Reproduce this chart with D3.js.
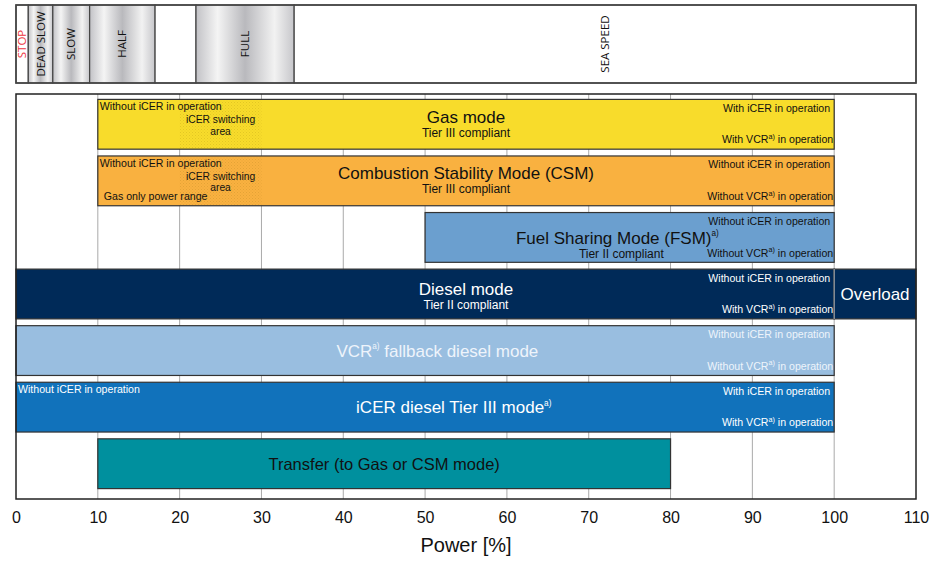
<!DOCTYPE html>
<html>
<head>
<meta charset="utf-8">
<script src="https://cdn.jsdelivr.net/npm/d3@7"></script>
<style>
  body { margin: 0; background: #fff; }
  text { font-family: "Liberation Sans", Arial, sans-serif; }
  .tele text { font-family: "Open Sans", "DejaVu Sans", sans-serif; }
</style>
</head>
<body>
<script>
// engine telegraph bands (power %)
var speedLabels = ["STOP", "DEAD SLOW", "SLOW", "HALF", "", "FULL", "SEA SPEED"];
var speedEdges = [0, 1.5, 4.5, 9, 17, 22, 34, 110];

// operating modes, one row each
var modes = ["Gas mode", "Combustion Stability Mode (CSM)", "Fuel Sharing Mode (FSM)^a)", "Diesel mode",
             "VCR^a) fallback diesel mode", "iCER diesel Tier III mode^a)", "Transfer (to Gas or CSM mode)"];
var subtitles = ["Tier III compliant", "Tier III compliant", "Tier II compliant", "Tier II compliant", "", "", ""];
var startPct = [10, 10, 50, 0, 0, 0, 10];
var endPct = [100, 100, 100, 100, 100, 100, 80];
var leftNotes = ["Without iCER in operation", "Without iCER in operation", "", "", "", "Without iCER in operation", ""];
var rightTop = ["With iCER in operation", "Without iCER in operation", "Without iCER in operation",
                "Without iCER in operation", "Without iCER in operation", "With iCER in operation", ""];
var rightBottom = ["With VCR^a) in operation", "Without VCR^a) in operation", "Without VCR^a) in operation",
                   "With VCR^a) in operation", "Without VCR^a) in operation", "With VCR^a) in operation", ""];
var switchRange = [20, 30];   // iCER switching area, rows 0 and 1
var overloadRange = [100, 110]; // on the diesel row
var xTicks = [0, 10, 20, 30, 40, 50, 60, 70, 80, 90, 100, 110];

var fills = ["#f8dc2b", "#f9b140", "#6b9fcf", "#002a58", "#99bee0", "#1172bb", "#00909e"];
var textCol = ["#111", "#111", "#111", "#fff", "#eef4fb", "#fff", "#111"];
// title x position (power %) per row, to follow the picture
var titleAt = [55, 55, 73.5, 55, 51.5, 53.5, 45];

var svg = d3.select("body").append("svg").attr("width", 937).attr("height", 561);

var x = d3.scaleLinear().domain([0, 110]).range([16, 916]);
var y = d3.scaleBand().domain(d3.range(modes.length)).range([96, 492]).paddingInner(0.12).paddingOuter(0.06);

var defs = svg.append("defs");
var grad = defs.append("linearGradient").attr("id", "metal");
[[0, "#c2c2c6"], [0.22, "#f4f4f4"], [0.5, "#b9b9bd"], [0.8, "#f2f2f2"], [1, "#c6c6ca"]].forEach(function(s) {
  grad.append("stop").attr("offset", s[0]).attr("stop-color", s[1]);
});
var pat = defs.append("pattern").attr("id", "stip").attr("width", 3).attr("height", 3).attr("patternUnits", "userSpaceOnUse");
pat.append("rect").attr("width", 1).attr("height", 1).attr("fill", "rgba(120,90,0,0.16)");
pat.append("rect").attr("x", 1.5).attr("y", 1.5).attr("width", 1).attr("height", 1).attr("fill", "rgba(120,90,0,0.12)");

// rich text helper: "^a)" becomes a superscript
function rich(g, str, px, py, size, color, anchor) {
  var supScale = size > 14 ? 0.48 : 0.68;
  var t = g.append("text").attr("x", px).attr("y", py).attr("font-size", size)
    .attr("fill", color).attr("text-anchor", anchor || "start");
  str.split("^").forEach(function(p, i) {
    if (i == 0) { t.append("tspan").text(p); return; }
    t.append("tspan").attr("font-size", size * supScale).attr("dy", -size * 0.42).text("a)");
    if (p.slice(2)) t.append("tspan").attr("dy", size * 0.42).text(p.slice(2));
  });
  return t;
}

// ---- telegraph panel
var tele = svg.append("g").attr("class", "tele");
var teleTop = 5, teleBot = 83;
speedLabels.forEach(function(lab, i) {
  var x0 = x(speedEdges[i]), x1 = x(speedEdges[i + 1]);
  var useGrad = (i >= 1 && i <= 5 && lab != "");
  tele.append("rect").attr("x", x0).attr("y", teleTop).attr("width", x1 - x0).attr("height", teleBot - teleTop)
    .attr("fill", useGrad ? "url(#metal)" : "#fff")
    .attr("stroke", "#444").attr("stroke-width", 1.2);
  if (lab) {
    var cx = (x0 + x1) / 2, cy = 44;
    tele.append("text").attr("transform", "translate(" + (cx + 4) + "," + cy + ") rotate(-90)")
      .attr("text-anchor", "middle").attr("font-size", 11.5)
      .attr("fill", i == 0 ? "#ee3340" : "#111").text(lab);
  }
});
tele.append("rect").attr("x", x(0)).attr("y", teleTop).attr("width", x(110) - x(0)).attr("height", teleBot - teleTop)
  .attr("fill", "none").attr("stroke", "#444").attr("stroke-width", 1.6);

// ---- main plot
var plotTop = 94, plotBot = 499;
svg.append("g").selectAll("line").data(xTicks.filter(function(d) { return d > 0 && d < 110; }))
  .enter().append("line")
  .attr("x1", function(d) { return x(d); }).attr("x2", function(d) { return x(d); })
  .attr("y1", plotTop).attr("y2", plotBot)
  .attr("stroke", "#aaa").attr("stroke-width", 1);

var small = 10.6;
var bars = svg.append("g");
modes.forEach(function(m, i) {
  var top = y(i), h = y.bandwidth();
  var x0 = x(startPct[i]), x1 = x(endPct[i]);
  bars.append("rect").attr("x", x0).attr("y", top).attr("width", x1 - x0).attr("height", h)
    .attr("fill", fills[i]).attr("stroke", "#333").attr("stroke-width", 1.2);
  if (i < 2) {
    bars.append("rect").attr("x", x(switchRange[0])).attr("y", top + 1).attr("width", x(switchRange[1]) - x(switchRange[0]))
      .attr("height", h - 2).attr("fill", "url(#stip)");
  }
  if (i == 3) {
    bars.append("rect").attr("x", x(overloadRange[0])).attr("y", top).attr("width", x(overloadRange[1]) - x(overloadRange[0]))
      .attr("height", h).attr("fill", fills[i]).attr("stroke", "#333").attr("stroke-width", 1.2);
    bars.append("line").attr("x1", x(overloadRange[0])).attr("x2", x(overloadRange[0]))
      .attr("y1", top).attr("y2", top + h).attr("stroke", "#9aa3b0").attr("stroke-width", 1.2);
    rich(bars, "Overload", (x(overloadRange[0]) + x(overloadRange[1])) / 2, top + h / 2 + 6, 17, "#fff", "middle");
  }
  var c = textCol[i];
  var tx = x(titleAt[i]);
  if (subtitles[i]) {
    var off = [24, 23, 31, 26][i];
    rich(bars, m, tx, top + off, 17, c, "middle");
    rich(bars, subtitles[i], i == 2 ? tx + 4 : tx, top + off + 14, 12, c, "middle");
  } else {
    rich(bars, m, tx, top + h / 2 + 6, i == 6 ? 16.5 : 17, c, "middle");
  }
  if (leftNotes[i]) rich(bars, leftNotes[i], x0 + 2, top + 11, small, c, "start");
  if (i < 2) {
    var sx = x((switchRange[0] + switchRange[1]) / 2);
    rich(bars, "iCER switching", sx, top + 24, 10.3, c, "middle");
    rich(bars, "area", sx, top + 35.5, 10.3, c, "middle");
  }
  if (i == 1) rich(bars, "Gas only power range", x0 + 6, top + 44, small, c, "start");
  if (rightTop[i]) rich(bars, rightTop[i], x(100) - 4, top + 12.5, small, c, "end");
  if (rightBottom[i]) rich(bars, rightBottom[i], x(100) - 1, top + 44, small, c, "end");
});

// frame
svg.append("rect").attr("x", x(0)).attr("y", plotTop).attr("width", x(110) - x(0)).attr("height", plotBot - plotTop)
  .attr("fill", "none").attr("stroke", "#222").attr("stroke-width", 1.5);

// axis
var ax = svg.append("g").attr("transform", "translate(0," + plotBot + ")")
  .call(d3.axisBottom(x).tickValues(xTicks).tickSize(0).tickPadding(13).tickFormat(d3.format("d")));
ax.select(".domain").remove();
ax.selectAll("text").attr("font-size", 16).attr("fill", "#111").attr("font-family", "Liberation Sans, Arial, sans-serif");

svg.append("text").attr("x", x(55)).attr("y", 552).attr("text-anchor", "middle")
  .attr("font-size", 20).attr("fill", "#111").text("Power [%]");
</script>
</body>
</html>
